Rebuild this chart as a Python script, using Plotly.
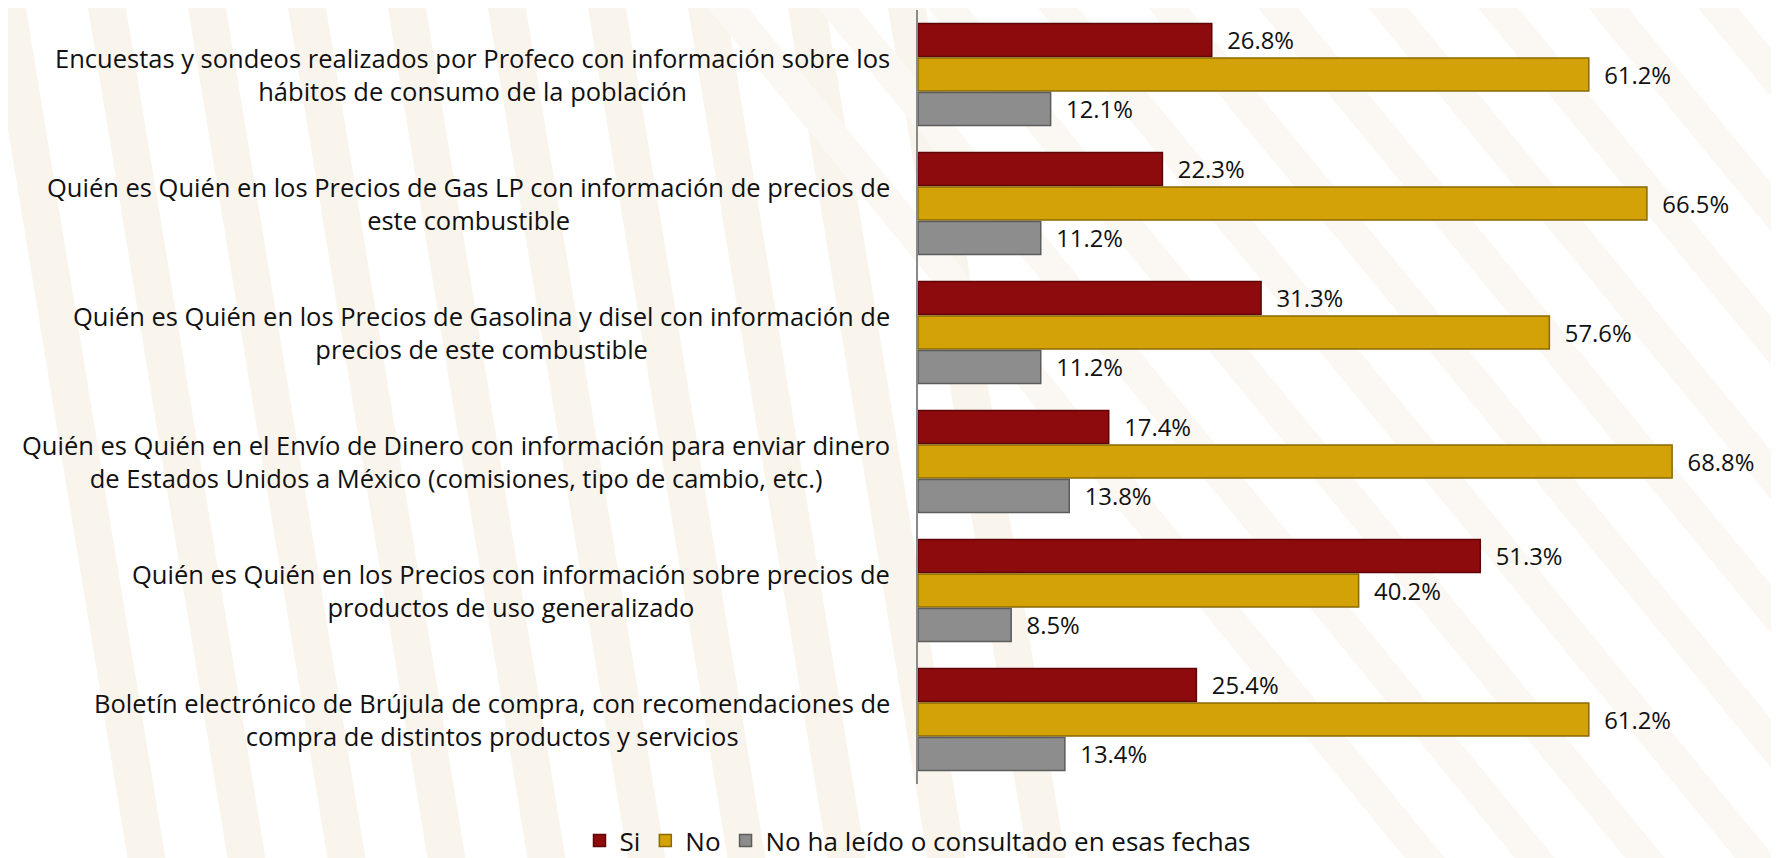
import plotly.graph_objects as go

# ── Data ──────────────────────────────────────────────────────
categories = [
    "Encuestas y sondeos realizados por Profeco con información sobre los<br>hábitos de consumo de la población",
    "Quién es Quién en los Precios de Gas LP con información de precios de<br>este combustible",
    "Quién es Quién en los Precios de Gasolina y disel con información de<br>precios de este combustible",
    "Quién es Quién en el Envío de Dinero con información para enviar dinero<br>de Estados Unidos a México (comisiones, tipo de cambio, etc.)",
    "Quién es Quién en los Precios con información sobre precios de<br>productos de uso generalizado",
    "Boletín electrónico de Brújula de compra, con recomendaciones de<br>compra de distintos productos y servicios",
]
si_vals = [26.8, 22.3, 31.3, 17.4, 51.3, 25.4]
no_vals = [61.2, 66.5, 57.6, 68.8, 40.2, 61.2]
no_leido_vals = [12.1, 11.2, 11.2, 13.8, 8.5, 13.4]

series_names = ["Si", "No", "No ha leído o consultado en esas fechas"]

# ── Style ─────────────────────────────────────────────────────
FONT = "Open Sans, sans-serif"
COLORS = {
    "Si":   ("#8e0b0d", "#5e0508"),
    "No":   ("#d2a207", "#8a6a04"),
    "gray": ("#8d8d8d", "#5c5c5c"),
}
W, H = 1779, 858
M = dict(l=910, r=25, t=2, b=78)
PW, PH = W - M["l"] - M["r"], H - M["t"] - M["b"]


def px_to_paper(x, y):
    return (x - M["l"]) / PW, 1 - (y - M["t"]) / PH


def band(pts, color):
    pp = [px_to_paper(x, y) for x, y in pts]
    path = "M " + " L ".join(f"{a:.4f},{b:.4f}" for a, b in pp) + " Z"
    return dict(type="path", xref="paper", yref="paper", path=path,
                fillcolor=color, line=dict(width=0), layer="below")


fig = go.Figure()
for name, vals, key in [
    (series_names[0], si_vals, "Si"),
    (series_names[1], no_vals, "No"),
    (series_names[2], no_leido_vals, "gray"),
]:
    fill, edge = COLORS[key]
    fig.add_trace(go.Bar(
        y=categories,
        x=vals,
        name=name,
        orientation="h",
        marker=dict(color=fill, line=dict(color=edge, width=1.5)),
        texttemplate="  %{x:.1f}%",
        textposition="outside",
        textfont=dict(family=FONT, size=26, color="#111111"),
        cliponaxis=False,
    ))

# centered multi-line category labels
for cat in categories:
    fig.add_annotation(
        x=0, xref="paper", y=cat, yref="y",
        text=cat, showarrow=False,
        xanchor="right", yanchor="middle", align="center",
        xshift=-26,
        font=dict(family=FONT, size=25.5, color="#111111"),
    )

# faint watermark: near-vertical bands on the left, diagonal stripes on the right
shapes = []
for x0 in range(-20, 900, 100):
    shapes.append(band([(x0, 0), (x0 + 38, 0), (x0 + 38 + 140, H), (x0 + 140, H)],
                       "#faf5ec"))
for x0 in range(700, W + 100, 110):
    shapes.append(band([(x0, 0), (x0 + 40, 0), (x0 + 40 + 700, H), (x0 + 700, H)],
                       "#fbf8f3"))

fig.update_layout(
    width=W, height=H,
    paper_bgcolor="white",
    plot_bgcolor="rgba(0,0,0,0)",
    barmode="group",
    bargap=0.2,
    bargroupgap=0.04,
    font=dict(family=FONT, color="#111111"),
    margin=M,
    shapes=shapes,
    xaxis=dict(
        range=[0, 77], showgrid=False, zeroline=False,
        showticklabels=False, showline=False,
    ),
    yaxis=dict(
        autorange="reversed", showticklabels=False, showgrid=False,
        showline=True, linecolor="#8a8a8a", linewidth=1.5,
        ticks="",
    ),
    legend=dict(
        orientation="h", x=0, xanchor="center",
        y=-0.073, yanchor="middle",
        font=dict(family=FONT, size=26, color="#111111"),
        bgcolor="rgba(0,0,0,0)",
    ),
    showlegend=True,
)

fig.write_html("out.html")
